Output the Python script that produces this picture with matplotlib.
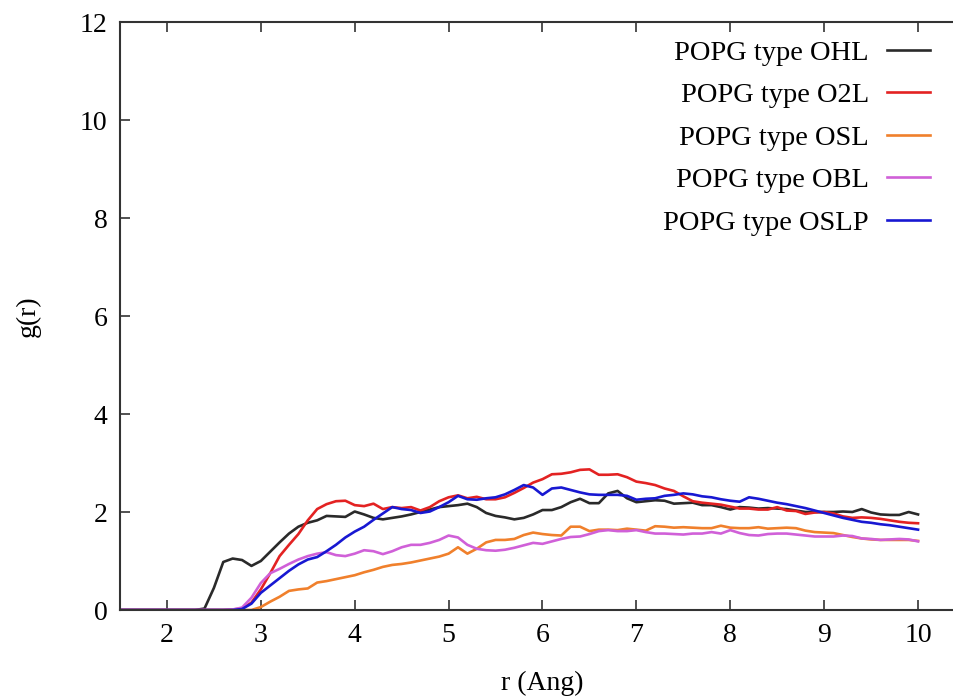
import numpy as np
import matplotlib
matplotlib.use("Agg")
import matplotlib.pyplot as plt

# r grid (Angstrom) and g(r) curves
r = np.round(np.arange(1.5, 10.001, 0.1), 2)

lead = [0.0] * 9  # r = 1.5 .. 2.3

ohl = lead + [0.03, 0.45, 0.98, 1.05, 1.02, 0.90, 1.00, 1.19, 1.38, 1.56,
              1.70, 1.78, 1.83, 1.92, 1.91, 1.90, 2.01, 1.95, 1.88, 1.85,
              1.88, 1.91, 1.95, 2.00, 2.05, 2.10, 2.12, 2.14, 2.17, 2.10,
              1.98, 1.92, 1.89, 1.85, 1.88, 1.95, 2.04, 2.04, 2.10, 2.20,
              2.27, 2.18, 2.18, 2.38, 2.43, 2.28, 2.20, 2.22, 2.24, 2.23,
              2.17, 2.18, 2.19, 2.14, 2.14, 2.10, 2.05, 2.10, 2.09, 2.07,
              2.08, 2.07, 2.06, 2.03, 2.00, 2.00, 2.00, 2.00, 2.01, 2.00,
              2.06, 1.99, 1.95, 1.94, 1.94, 2.00, 1.95]

o2l = lead + [0.00, 0.00, 0.00, 0.01, 0.03, 0.15, 0.42, 0.75, 1.10, 1.33,
              1.55, 1.83, 2.06, 2.16, 2.22, 2.23, 2.14, 2.12, 2.17, 2.06,
              2.10, 2.08, 2.10, 2.03, 2.10, 2.22, 2.30, 2.34, 2.28, 2.31,
              2.26, 2.26, 2.30, 2.39, 2.49, 2.60, 2.67, 2.77, 2.78, 2.81,
              2.86, 2.87, 2.76, 2.76, 2.77, 2.71, 2.62, 2.59, 2.55, 2.48,
              2.43, 2.32, 2.22, 2.19, 2.17, 2.15, 2.11, 2.07, 2.07, 2.05,
              2.05, 2.10, 2.03, 2.02, 1.96, 1.99, 2.00, 1.97, 1.91, 1.88,
              1.89, 1.88, 1.86, 1.83, 1.80, 1.78, 1.77]

osl = lead + [0.00, 0.00, 0.00, 0.00, 0.00, 0.00, 0.06, 0.17, 0.27, 0.39,
              0.42, 0.44, 0.56, 0.59, 0.63, 0.67, 0.71, 0.77, 0.82, 0.88,
              0.92, 0.94, 0.97, 1.01, 1.05, 1.09, 1.15, 1.28, 1.15, 1.25,
              1.38, 1.43, 1.43, 1.45, 1.53, 1.58, 1.55, 1.53, 1.52, 1.70,
              1.70, 1.61, 1.64, 1.64, 1.63, 1.66, 1.64, 1.62, 1.71, 1.70,
              1.68, 1.69, 1.68, 1.67, 1.67, 1.72, 1.68, 1.67, 1.67, 1.69,
              1.66, 1.67, 1.68, 1.67, 1.62, 1.59, 1.58, 1.57, 1.53, 1.49,
              1.46, 1.44, 1.43, 1.43, 1.43, 1.43, 1.41]

obl = lead + [0.00, 0.00, 0.00, 0.01, 0.05, 0.25, 0.55, 0.75, 0.84, 0.94,
              1.03, 1.10, 1.15, 1.18, 1.12, 1.10, 1.15, 1.22, 1.20, 1.14,
              1.20, 1.28, 1.33, 1.33, 1.37, 1.43, 1.52, 1.48, 1.33, 1.25,
              1.22, 1.21, 1.23, 1.27, 1.32, 1.37, 1.35, 1.40, 1.45, 1.49,
              1.50, 1.55, 1.61, 1.63, 1.61, 1.61, 1.63, 1.59, 1.56, 1.56,
              1.55, 1.54, 1.56, 1.56, 1.59, 1.56, 1.63, 1.57, 1.53, 1.52,
              1.55, 1.56, 1.56, 1.54, 1.52, 1.50, 1.50, 1.50, 1.52, 1.51,
              1.46, 1.45, 1.43, 1.44, 1.45, 1.44, 1.40]

oslp = lead + [0.00, 0.00, 0.00, 0.00, 0.02, 0.13, 0.35, 0.50, 0.65, 0.80,
               0.93, 1.03, 1.08, 1.20, 1.33, 1.48, 1.60, 1.70, 1.84, 1.97,
               2.10, 2.06, 2.04, 1.98, 2.01, 2.10, 2.20, 2.33, 2.26, 2.25,
               2.28, 2.30, 2.36, 2.45, 2.55, 2.50, 2.35, 2.48, 2.50, 2.45,
               2.40, 2.36, 2.35, 2.35, 2.35, 2.33, 2.25, 2.27, 2.28, 2.33,
               2.35, 2.38, 2.36, 2.32, 2.30, 2.26, 2.23, 2.21, 2.30, 2.27,
               2.23, 2.19, 2.16, 2.12, 2.08, 2.03, 1.98, 1.93, 1.88, 1.84,
               1.80, 1.78, 1.75, 1.73, 1.70, 1.67, 1.64]

labels = ["POPG type OHL", "POPG type O2L", "POPG type OSL",
          "POPG type OBL", "POPG type OSLP"]
colors = ["#2a2a2a", "#e32222", "#f0802c", "#d060d8", "#1818d2"]

plt.rcParams["font.family"] = ["Liberation Serif", "DejaVu Serif"]

fig = plt.figure(figsize=[9.54, 6.98], dpi=100)
W, H = 954, 698
# axes box: left spine at x=120 px, bottom at y=610 px, top at y=22 px
ax = fig.add_axes([120 / W, 88 / H, 845 / W, 588 / H])

for y, lab, c in zip([ohl, o2l, osl, obl, oslp], labels, colors):
    ax.plot(r, y, color=c, lw=1.9, label=lab)

ax.set_xlim(1.5, 10.5)
ax.set_ylim(0, 12)
ax.set_xticks(range(2, 11))
ax.set_yticks(range(0, 13, 2))
ax.tick_params(direction="in", length=7, width=1.2, labelsize=20, pad=9,
               top=True, right=False, color="#333333")
for s in ax.spines.values():
    s.set_linewidth(1.5)
    s.set_color("#333333")
ax.spines["right"].set_visible(False)

ax.set_xlabel("r (Ang)", fontsize=20, labelpad=17)
ax.set_ylabel("g(r)", fontsize=20, labelpad=28)

leg = ax.legend(loc="upper right", bbox_to_anchor=(930 / W, 1 - 40 / H),
                bbox_transform=fig.transFigure, frameon=False, fontsize=20.5,
                markerfirst=False, handlelength=1.5, handletextpad=0.65,
                labelspacing=0.58, borderpad=0, borderaxespad=0)
# right-align the legend rows like gnuplot does
for col in leg._legend_handle_box.get_children():
    col.align = "right"

fig.savefig("out.png", dpi=100)
